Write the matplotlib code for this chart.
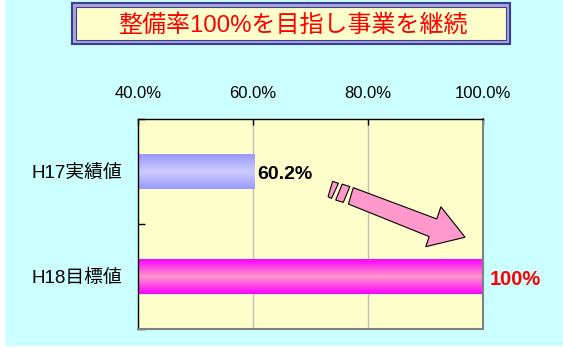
import matplotlib
matplotlib.use("Agg")
import matplotlib.pyplot as plt
import numpy as np
from matplotlib.patches import Polygon, Rectangle
from matplotlib.colors import LinearSegmentedColormap

plt.rcParams["font.family"] = ["Liberation Sans", "Noto Sans CJK JP", "DejaVu Sans"]

title = "整備率100%を目指し事業を継続"
categories = ["H17実績値", "H18目標値"]
values = [60.2, 100.0]
value_labels = ["60.2%", "100%"]
xticks = [40, 60, 80, 100]
xtick_labels = ["40.0%", "60.0%", "80.0%", "100.0%"]

W, H = 563, 348
fig = plt.figure(figsize=(W / 100, H / 100), dpi=100, facecolor="white")


def fx(px):
    return px / W


def fy(py):
    return 1 - py / H


# cyan page background
fig.patches.append(Rectangle((fx(5), fy(346)), 1 - fx(5), 1 - fy(346), transform=fig.transFigure,
                             facecolor="#CCFFFF", edgecolor="none", zorder=-10))

# title box with double border
fig.patches.append(Rectangle((fx(72), fy(44)), fx(510) - fx(72), fy(3) - fy(44),
                             transform=fig.transFigure, facecolor="#A8A8CC",
                             edgecolor="#3C3CA0", linewidth=1.5, zorder=1))
fig.patches.append(Rectangle((fx(76), fy(40)), fx(506) - fx(76), fy(7) - fy(40),
                             transform=fig.transFigure, facecolor="#FFFFCC",
                             edgecolor="#3C3CA0", linewidth=0.8, zorder=2))
fig.text(fx(293), fy(25), title, color="#FF0000", fontsize=17.3,
         ha="center", va="center", zorder=3)

ax = fig.add_axes([fx(138), fy(329), fx(483) - fx(138), fy(119) - fy(329)])
ax.set_facecolor("#FFFFCC")

ypos = np.arange(len(categories))
bars = ax.barh(ypos, np.array(values) - xticks[0], left=xticks[0], height=0.33,
               color="none", edgecolor="none", zorder=2)

gradients = [
    LinearSegmentedColormap.from_list("g17", ["#9999FF", "#CCCCFF", "#9999FF"]),
    LinearSegmentedColormap.from_list("g18", ["#FF00FF", "#FF99CC", "#FF00FF"]),
]
grad = np.linspace(0, 1, 256).reshape(-1, 1)
for bar, cmap in zip(bars, gradients):
    x0, y0 = bar.get_x(), bar.get_y()
    im = ax.imshow(grad, cmap=cmap, aspect="auto", interpolation="bilinear",
                   extent=[x0, x0 + bar.get_width(), y0 + bar.get_height(), y0], zorder=2)
    im.set_clip_path(bar)

ax.set_xlim(xticks[0], xticks[-1])
ax.set_ylim(len(categories) - 0.5, -0.5)

# value labels
ax.text(values[0] + 0.6, ypos[0] + 0.03, value_labels[0], fontsize=14, fontweight="bold",
        color="black", ha="left", va="center", zorder=4)
ax.text(values[1] + 1.2, ypos[1] + 0.03, value_labels[1], fontsize=14.5, fontweight="bold",
        color="#FF0000", ha="left", va="center", clip_on=False, zorder=4)

# x axis on top
ax.xaxis.tick_top()
ax.set_xticks(xticks, xtick_labels)
ax.tick_params(axis="x", direction="in", length=4, width=1, pad=13, labelsize=12)
for x in xticks[1:-1]:
    ax.axvline(x, color="#BEBEBE", linewidth=1, zorder=1)

# y axis: ticks at category boundaries, labels at centres
ax.set_yticks(np.arange(-0.5, len(categories), 1.0))
ax.set_yticklabels([])
ax.set_yticks(ypos, categories, minor=True)
ax.tick_params(axis="y", which="major", direction="in", length=5, width=1)
ax.tick_params(axis="y", which="minor", length=0, pad=11.5, labelsize=13.5)

for side in ["top", "left"]:
    ax.spines[side].set_color("black")
    ax.spines[side].set_linewidth(1)
for side in ["right", "bottom"]:
    ax.spines[side].set_color("#808080")
    ax.spines[side].set_linewidth(1.5)

# pink arrow (axes fraction coordinates)
arrow = [(0.624, 0.673), (0.866, 0.524), (0.878, 0.582), (0.948, 0.437),
         (0.834, 0.392), (0.844, 0.440), (0.610, 0.595)]
piece2 = [(0.592, 0.690), (0.614, 0.678), (0.595, 0.603), (0.573, 0.614)]
piece1 = [(0.564, 0.703), (0.581, 0.694), (0.561, 0.622), (0.551, 0.630)]
for pts in [arrow, piece2, piece1]:
    ax.add_patch(Polygon(pts, closed=True, transform=ax.transAxes, facecolor="#FF99CC",
                         edgecolor="black", linewidth=0.8, zorder=5))

fig.savefig("out.png", dpi=100, facecolor=fig.get_facecolor())
